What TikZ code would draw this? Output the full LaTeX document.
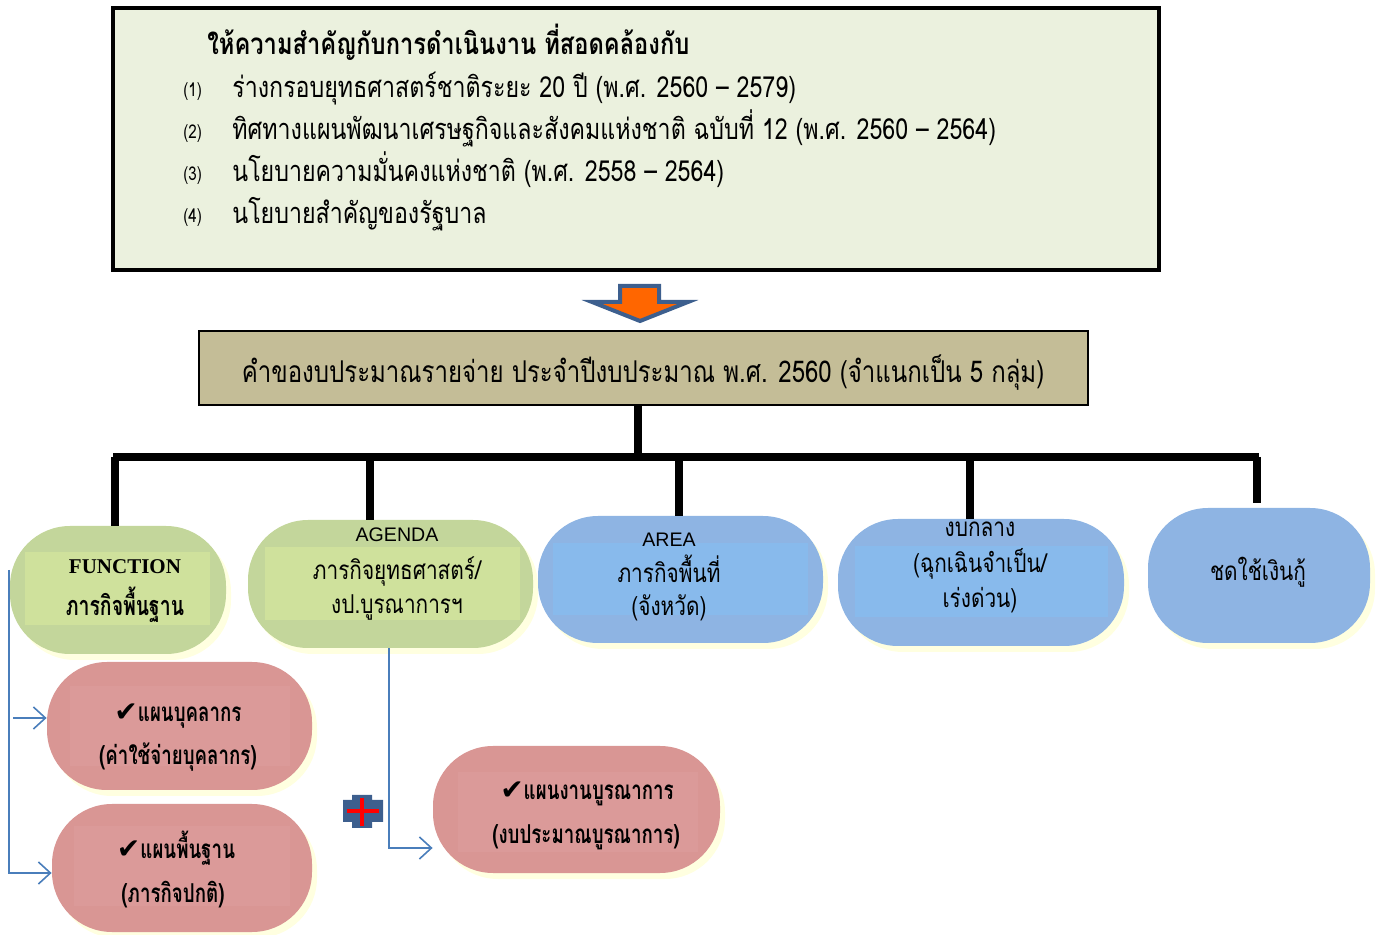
\documentclass[tikz,border=0pt]{standalone}
\usepackage{fontspec}
\usetikzlibrary{shadows,arrows.meta}
\newfontfamily\thai[Script=Thai,FakeStretch=0.8]{Loma}
\newfontfamily\thaiB[Script=Thai,FakeStretch=0.72]{Loma}
\newfontfamily\chk{DejaVu Sans}
\newfontfamily\tnr{Liberation Serif}
\newfontfamily\arl{Liberation Sans}
\definecolor{topfill}{HTML}{EBF1DE}
\definecolor{midfill}{HTML}{C4BD97}
\definecolor{ovgreen}{HTML}{C3D69B}
\definecolor{ingreen}{HTML}{CFE19C}
\definecolor{ovblue}{HTML}{8EB4E3}
\definecolor{inblue}{HTML}{88BAEC}
\definecolor{ovpink}{HTML}{D99694}
\definecolor{inpink}{HTML}{DB9A99}
\definecolor{darkblue}{HTML}{3D5F8E}
\definecolor{arrorange}{HTML}{FF6600}
\definecolor{thinblue}{HTML}{4A7EBB}
\definecolor{glow}{HTML}{FFFFE0}
\tikzset{
  ovalbox/.style={rounded corners=30pt, inner sep=0pt,
    drop shadow={shadow xshift=2.5pt, shadow yshift=-3pt, fill=glow, opacity=1}},
  innerbox/.style={inner sep=0pt},
  tx/.style={inner sep=0pt, anchor=base},
  txl/.style={inner sep=0pt, anchor=base west},
  thaiitem/.style={font=\thai\fontsize{14.5}{16}\selectfont},
  thainorm/.style={font=\thai\fontsize{13}{15}\selectfont},
  thaibold/.style={font=\thaiB\bfseries\fontsize{13}{15}\selectfont},
  tree/.style={line width=4pt, black},
  thinline/.style={line width=0.8pt, thinblue},
  thinarrow/.style={thinline, -{Straight Barb[length=6pt,width=11pt,line width=0.8pt]}},
}
\newcommand{\ck}{{\chk\fontsize{14}{14}\selectfont ✔}}
\begin{document}
\begin{tikzpicture}[x=0.5pt,y=-0.5pt]
\useasboundingbox (0,0) rectangle (1378,935);
% top box
\node[draw=black, line width=2pt, fill=topfill, minimum width=523pt, minimum height=131pt, inner sep=0pt] (top) at (636,139) {};
\node[txl, font=\thai\bfseries\fontsize{14.8}{16}\selectfont] (title) at (207,55) {ให้ความสำคัญกับการดำเนินงาน ที่สอดคล้องกับ};
\node[txl, font=\thai\fontsize{9.5}{11}\selectfont] (n1) at (183,97) {(1)};
\node[txl, font=\thai\fontsize{9.5}{11}\selectfont] (n2) at (183,139) {(2)};
\node[txl, font=\thai\fontsize{9.5}{11}\selectfont] (n3) at (183,181) {(3)};
\node[txl, font=\thai\fontsize{9.5}{11}\selectfont] (n4) at (183,223) {(4)};
\node[txl, thaiitem] (i1) at (232,98) {ร่างกรอบยุทธศาสตร์ชาติระยะ 20 ปี (พ.ศ. 2560 – 2579)};
\node[txl, thaiitem] (i2) at (232,140) {ทิศทางแผนพัฒนาเศรษฐกิจและสังคมแห่งชาติ ฉบับที่ 12 (พ.ศ. 2560 – 2564)};
\node[txl, thaiitem] (i3) at (232,182) {นโยบายความมั่นคงแห่งชาติ (พ.ศ. 2558 – 2564)};
\node[txl, thaiitem] (i4) at (232,224) {นโยบายสำคัญของรัฐบาล};
% block arrow
\draw[darkblue, line width=2pt, line join=miter, fill=arrorange]
  (620,286) -- (659,286) -- (659,302) -- (688,302) -- (640,321) -- (592,302) -- (620,302) -- cycle;
% middle box
\node[draw=black, line width=1pt, fill=midfill, minimum width=444.5pt, minimum height=37pt, inner sep=0pt] (mid) at (643.5,368) {};
\node[tx, font=\thai\fontsize{15}{17}\selectfont] (midt) at (643,383) {คำของบประมาณรายจ่าย ประจำปีงบประมาณ พ.ศ. 2560 (จำแนกเป็น 5 กลุ่ม)};
% ovals
\node[ovalbox, fill=ovgreen, minimum width=108pt, minimum height=64pt] (fn) at (118,590) {};
\node[innerbox, fill=ingreen, minimum width=92.5pt, minimum height=36.5pt] (fnin) at (117.5,588.5) {};
\node[ovalbox, fill=ovgreen, minimum width=142.5pt, minimum height=64pt] (ag) at (390.5,584) {};
\node[innerbox, fill=ingreen, minimum width=127.5pt, minimum height=36.5pt] (agin) at (392.5,583.5) {};
\node[ovalbox, fill=ovblue, minimum width=142.5pt, minimum height=63.5pt] (ar) at (680.5,579.5) {};
\node[innerbox, fill=inblue, minimum width=127.5pt, minimum height=36pt] (arin) at (680.5,579) {};
\node[ovalbox, fill=ovblue, minimum width=143pt, minimum height=63.5pt] (gb) at (981,582.5) {};
\node[innerbox, fill=inblue, minimum width=126.5pt, minimum height=35.5pt] (gbin) at (981.5,581.5) {};
\node[ovalbox, fill=ovblue, minimum width=111pt, minimum height=67.5pt] (cd) at (1259,575.5) {};
\node[ovalbox, fill=ovpink, minimum width=132.5pt, minimum height=64pt] (pb) at (179.5,726) {};
\node[innerbox, fill=inpink, minimum width=110pt, minimum height=40pt] (pbin) at (180,726) {};
\node[ovalbox, fill=ovpink, minimum width=130pt, minimum height=64pt] (pf) at (182,868) {};
\node[innerbox, fill=inpink, minimum width=108pt, minimum height=40pt] (pfin) at (182,866) {};
\node[ovalbox, fill=ovpink, minimum width=143.5pt, minimum height=63.5pt] (pi) at (576.5,809.5) {};
\node[innerbox, fill=inpink, minimum width=120pt, minimum height=40pt] (piin) at (578,812) {};
% oval texts
\node[tx, font=\tnr\bfseries\fontsize{10.5}{12}\selectfont] (fnt1) at (125,574) {FUNCTION};
\node[tx, font=\thaiB\bfseries\fontsize{13.5}{15}\selectfont] (fnt2) at (125,616) {ภารกิจพื้นฐาน};
\node[tx, font=\arl\fontsize{9.8}{12}\selectfont] (agt0) at (397,542) {AGENDA};
\node[tx, thainorm] (agt1) at (397,580) {ภารกิจยุทธศาสตร์/};
\node[tx, thainorm] (agt2) at (397,614) {งป.บูรณาการฯ};
\node[tx, font=\arl\fontsize{9.8}{12}\selectfont] (art0) at (669,547) {AREA};
\node[tx, thainorm] (art1) at (669,583) {ภารกิจพื้นที่};
\node[tx, thainorm] (art2) at (669,616) {(จังหวัด)};
\node[tx, thainorm] (gbt0) at (980,537) {งบกลาง};
\node[tx, thainorm] (gbt1) at (980,573) {(ฉุกเฉินจำเป็น/};
\node[tx, thainorm] (gbt2) at (980,608) {เร่งด่วน)};
\node[tx, thainorm] (cdt) at (1258,581) {ชดใช้เงินกู้};
\node[tx, thaibold] (pbt1) at (178,722) {\ck แผนบุคลากร};
\node[tx, thaibold] (pbt2) at (178,765) {(ค่าใช้จ่ายบุคลากร)};
\node[tx, thaibold] (pft1) at (176,858) {\ck แผนพื้นฐาน};
\node[tx, thaibold] (pft2) at (173,902) {(ภารกิจปกติ)};
\node[tx, thaibold] (pit1) at (587,799) {\ck แผนงานบูรณาการ};
\node[tx, thaibold] (pit2) at (586,843) {(งบประมาณบูรณาการ)};
% tree connectors
\coordinate (hub) at (638,457);
\coordinate (b1) at (115,457);
\coordinate (b2) at (370,457);
\coordinate (b3) at (679,457);
\coordinate (b4) at (970,457);
\coordinate (b5) at (1257,457);
\draw[tree] (mid.south -| hub) -- (hub);
\draw[tree] ([xshift=-1pt]b1) -- ([xshift=1pt]b5);
\draw[tree] (b1) -- (b1 |- fn.north);
\draw[tree] (b2) -- (b2 |- ag.north);
\draw[tree] (b3) -- (b3 |- ar.north);
\draw[tree] (b4) -- (b4 |- gb.north);
\draw[tree] (b5) -- ([yshift=2.5pt]b5 |- cd.north);
% thin blue connectors
\coordinate (l0) at (9,570);
\draw[thinarrow] (l0) |- ([yshift=-2.5pt]pf.west);
\draw[thinarrow] ([xshift=2pt]l0 |- 0,718) -- (pb.west |- 0,718);
\draw[thinarrow] (ag.south -| 389,0) |- (pi.west |- 0,848);
% plus sign
\fill[darkblue] (352,795) -- (372,795) -- (372,800) -- (383,800) -- (383,822) -- (372,822) -- (372,828) -- (352,828) -- (352,822) -- (343,822) -- (343,800) -- (352,800) -- cycle;
\draw[red, line width=2pt] (347,811) -- (379,811);
\draw[red, line width=2pt] (362,798) -- (362,826);
\end{tikzpicture}
\end{document}
